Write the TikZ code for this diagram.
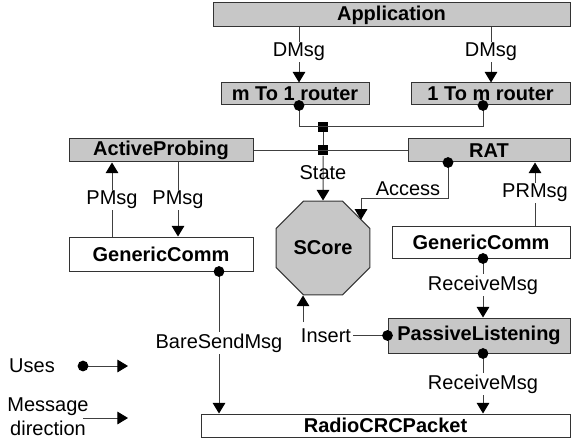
\documentclass[tikz,border=0pt]{standalone}
\usepackage{fontspec}
\setmainfont{Liberation Sans}
\usetikzlibrary{shapes.geometric,arrows.meta,calc}
\newcommand\diafont{\fontsize{15}{18}\selectfont}
\tikzset{%
  comp/.style 2 args = {draw=black!80,line width=0.75pt,inner sep=0pt,
                        minimum width=#1*0.75pt,minimum height=#2*0.75pt,
                        font=\diafont\bfseries},
  grayfill/.style    = {fill=black!22},
  junc/.style        = {fill=black,inner sep=0pt,minimum size=7.5pt},
  lbl/.style         = {inner sep=1pt},
  wire/.style        = {draw=black!75,line width=0.75pt},
  msg/.style         = {wire,-{Triangle[length=8pt,width=9.5pt,black]}},
  uses/.style        = {wire,{Circle[length=8pt,black]}-,shorten <=-4pt},
  usesmsg/.style     = {wire,{Circle[length=8pt,black]}-{Triangle[length=8pt,width=9.5pt,black]},
                        shorten <=-4pt}}

\begin{document}
\begin{tikzpicture}[x=0.75pt,y=-0.75pt,every node/.style={font=\diafont}]
   \useasboundingbox (0,0) rectangle (573,445);
   % components
   \node[comp={357}{24},grayfill] (app)     at (391.5,15)   {Application};
   \node[comp={148}{22},grayfill] (mone)    at (295,94)     {m To 1 router};
   \node[comp={159}{22},grayfill] (onem)    at (490.5,94)   {1 To m router};
   \node[comp={184}{23},grayfill] (probe)   at (161,150.5)  {ActiveProbing};
   \node[comp={162}{23},grayfill] (rat)     at (489,150.5)  {RAT};
   \node[comp={184}{34}]          (gcl)     at (161,254)    {GenericComm};
   \node[comp={178}{32}]          (gcr)     at (481,242)    {GenericComm};
   \node[draw=black!80,line width=0.75pt,grayfill,regular polygon,regular polygon sides=8,
         minimum size=101.7*0.75pt,inner sep=0pt,font=\diafont\bfseries]
                                  (score)   at (323,248)    {SCore};
   \node[comp={182}{35},grayfill] (plisten) at (479,335.5)  {PassiveListening};
   \node[comp={369}{23}]          (radio)   at (385.5,425.5) {RadioCRCPacket};
   \node[junc] (ja) at (323,127) {};
   \node[junc] (jb) at (323,150.5) {};

   % label positions
   \coordinate (da) at (299,52);
   \coordinate (db) at (491,52);
   \coordinate (dc) at (483,52);
   \coordinate (pa) at (112,200);
   \coordinate (pb) at (178,200);
   \coordinate (pr) at (535,193);
   \coordinate (ra) at (483,285);
   \coordinate (rb) at (483,384);
   \coordinate (bs) at (219,343);
   \coordinate (acc) at (361,198);
   \coordinate (ins) at (303,322);

   % connectors
   \draw[msg] (app.south -| da) -- (mone.north -| da);
   \draw[msg] (app.south -| db) -- (onem.north -| db);
   \draw[uses] (mone.south -| da) |- (ja.center);
   \draw[uses] (onem.south -| dc) |- (ja.center);
   \draw[wire] (ja) -- (jb);
   \draw[wire] (probe.east) -- (rat.west);
   \draw[msg] (jb) -- (score.north);
   \draw[usesmsg] ($(rat.south)+(-41,0)$) |- (acc) -- (acc |- score.36);
   \draw[msg] (gcr.north -| pr) -- (rat.south -| pr);
   \draw[msg] (gcl.north -| pa) -- (probe.south -| pa);
   \draw[msg] (probe.south -| pb) -- (gcl.north -| pb);
   \draw[usesmsg] (gcr.south -| ra) -- (plisten.north -| ra);
   \draw[usesmsg] (plisten.south -| rb) -- (radio.north -| rb);
   \draw[usesmsg] (gcl.south -| bs) -- (radio.north -| bs);
   \draw[msg] (ins) -- (ins |- score.south);

   % labels
   \node[lbl,fill=white] (dmsga) at (da) {DMsg};
   \node[lbl,fill=white] (dmsgb) at (db) {DMsg};
   \node[lbl] (state) at (323,173) {State};
   \node[lbl] (access) at (408,189) {Access};
   \node[lbl,fill=white] (pmsga) at (pa) {PMsg};
   \node[lbl,fill=white] (pmsgb) at (pb) {PMsg};
   \node[lbl,fill=white] (prmsg) at (pr) {PRMsg};
   \node[lbl,fill=white] (recva) at (ra) {ReceiveMsg};
   \node[lbl,fill=white] (recvb) at (rb) {ReceiveMsg};
   \node[lbl,fill=white] (bare)  at (bs) {BareSendMsg};
   \node[lbl] (insert) at (326,335.5) {Insert};
   \draw[uses] (plisten.west) -- (insert.east);

   % legend
   \node (usesl) at (32,366) {Uses};
   \coordinate (ua) at (83,366);
   \coordinate (ub) at (128,366);
   \draw[usesmsg] (ua) -- (ub);
   \node[align=center] (msgdir) at (48,417) {Message\\direction};
   \coordinate (ma) at (83,418);
   \coordinate (mb) at (128,418);
   \draw[msg] (ma) -- (mb);
\end{tikzpicture}
\end{document}
